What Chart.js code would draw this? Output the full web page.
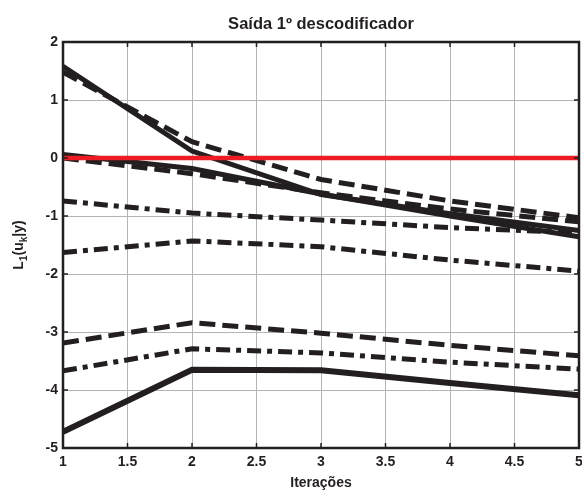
<!DOCTYPE html>
<html>
<head>
<meta charset="utf-8">
<script src="https://cdn.jsdelivr.net/npm/chart.js@4/dist/chart.umd.min.js"></script>
<style>
html,body{margin:0;padding:0;background:#fff;}
#wrap{width:582px;height:490px;}
</style>
</head>
<body>
<div id="wrap"><canvas id="chart" width="582" height="490"></canvas></div>
<script>
// iterations and decoder output L1(uk|y) per bit
const iteracoes = [1, 2, 3, 4, 5];

const bitA_solid  = [1.58, 0.12, -0.63, -0.96, -1.25];
const bitA_dash   = [1.48, 0.28, -0.37, -0.74, -1.03];
const bitB_solid  = [0.06, -0.18, -0.62, -1.00, -1.36];
const bitB_dash   = [0.00, -0.27, -0.60, -0.88, -1.10];
const bitC_dashdot = [-0.74, -0.95, -1.07, -1.20, -1.29];
const bitD_dashdot = [-1.63, -1.43, -1.53, -1.76, -1.95];
const bitE_dash   = [-3.19, -2.84, -3.02, -3.23, -3.41];
const bitF_dashdot = [-3.67, -3.29, -3.36, -3.52, -3.64];
const bitG_solid  = [-4.72, -3.65, -3.66, -3.88, -4.09];
const limiar     = [0, 0, 0, 0, 0];

const xTicks = [1, 1.5, 2, 2.5, 3, 3.5, 4, 4.5, 5];

const FONT = "'Liberation Sans', Arial, sans-serif";
const DASH = [16, 7];
const DASHDOT = [14, 6, 5, 6];

function pts(vals){
  return vals.map((v, i) => ({x: iteracoes[i], y: v}));
}

function serie(vals, dash, color, width){
  return {
    data: pts(vals),
    borderColor: color || "#231f20",
    borderWidth: width || 5,
    borderDash: dash || [],
    pointRadius: 0,
    tension: 0,
    fill: false,
    borderCapStyle: "butt"
  };
}

// frame, inward ticks and axis titles (matlab style)
const decor = {
  id: "decor",
  afterDraw(c){
    const ctx = c.ctx, a = c.chartArea;
    const xs = c.scales.x, ys = c.scales.y;
    ctx.save();
    ctx.strokeStyle = "#231f20";
    ctx.lineWidth = 1.5;
    ctx.beginPath();
    xTicks.forEach(t => {
      const px = xs.getPixelForValue(t);
      ctx.moveTo(px, a.bottom); ctx.lineTo(px, a.bottom - 5);
      ctx.moveTo(px, a.top); ctx.lineTo(px, a.top + 5);
    });
    for (let t = -5; t <= 2; t++){
      const py = ys.getPixelForValue(t);
      ctx.moveTo(a.left, py); ctx.lineTo(a.left + 5, py);
      ctx.moveTo(a.right, py); ctx.lineTo(a.right - 5, py);
    }
    ctx.stroke();
    ctx.lineWidth = 2.5;
    ctx.strokeRect(a.left, a.top, a.right - a.left, a.bottom - a.top);

    ctx.fillStyle = "#231f20";
    ctx.textAlign = "center";
    ctx.textBaseline = "alphabetic";
    ctx.font = "bold 16.5px " + FONT;
    ctx.fillText("Saída 1º descodificador", (a.left + a.right) / 2, 29);
    ctx.font = "bold 14px " + FONT;
    ctx.fillText("Iterações", (a.left + a.right) / 2, 487);

    // y title with subscripts: L1(uk|y)
    const parts = [["L", false], ["1", true], ["(u", false], ["k", true], ["|y)", false]];
    const big = "bold 14px " + FONT, small = "bold 10px " + FONT;
    let w = 0;
    parts.forEach(p => { ctx.font = p[1] ? small : big; w += ctx.measureText(p[0]).width; });
    ctx.translate(23, (a.top + a.bottom) / 2);
    ctx.rotate(-Math.PI / 2);
    ctx.textAlign = "left";
    let x = -w / 2;
    parts.forEach(p => {
      ctx.font = p[1] ? small : big;
      ctx.fillText(p[0], x, p[1] ? 4 : 0);
      x += ctx.measureText(p[0]).width;
    });
    ctx.restore();
  }
};

new Chart(document.getElementById("chart"), {
  type: "line",
  data: {
    datasets: [
      serie(limiar, [], "#ed1c24", 4.5),
      serie(bitA_solid),
      serie(bitA_dash, DASH),
      serie(bitB_solid),
      serie(bitB_dash, DASH),
      serie(bitC_dashdot, DASHDOT),
      serie(bitD_dashdot, DASHDOT),
      serie(bitE_dash, DASH),
      serie(bitF_dashdot, DASHDOT),
      serie(bitG_solid, [], "#231f20", 6)
    ]
  },
  options: {
    responsive: false,
    animation: false,
    layout: {padding: {top: 42, right: 3, left: 0, bottom: 0}},
    plugins: {legend: {display: false}, tooltip: {enabled: false}, title: {display: false}},
    scales: {
      x: {
        type: "linear",
        min: 1, max: 5,
        afterBuildTicks(s){ s.ticks = xTicks.map(v => ({value: v})); },
        afterFit(s){ s.height = 42; s.paddingLeft = 0; s.paddingRight = 0; },
        grid: {color: "#b4b4b4", lineWidth: 1, drawTicks: false},
        border: {display: false},
        ticks: {
          color: "#231f20", font: {family: FONT, size: 14, weight: "bold"}, padding: 6,
          maxRotation: 0, autoSkip: false,
          callback: v => String(v)
        }
      },
      y: {
        type: "linear",
        min: -5, max: 2,
        ticks: {stepSize: 1, color: "#231f20", font: {family: FONT, size: 14, weight: "bold"}, padding: 5},
        afterFit(s){ s.width = 63; s.paddingTop = 0; s.paddingBottom = 0; },
        grid: {color: "#b4b4b4", lineWidth: 1, drawTicks: false},
        border: {display: false}
      }
    }
  },
  plugins: [decor]
});
</script>
</body>
</html>
